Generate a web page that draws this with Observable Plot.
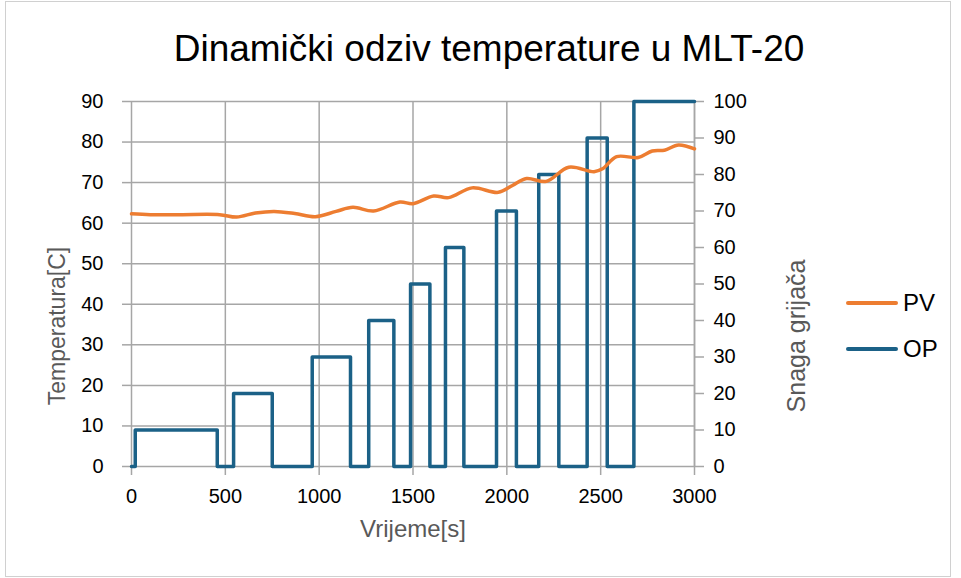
<!DOCTYPE html>
<html><head><meta charset="utf-8">
<script src="https://cdn.jsdelivr.net/npm/d3@7"></script>
<script src="https://cdn.jsdelivr.net/npm/@observablehq/plot@0.6"></script>
<style>
body{margin:0;background:#fff;font-family:"Liberation Sans",Arial,sans-serif;}
#wrap{position:relative;width:961px;height:578px;overflow:hidden}
#frame{position:absolute;left:5px;top:1px;width:946px;height:576px;border:1px solid #d0d0d0;box-sizing:border-box}
#title{position:absolute;left:0;top:30px;width:978px;text-align:center;font-size:37px;line-height:37px;color:#000}
#chart{position:absolute;left:0;top:0}
.lg{position:absolute;font-size:24px;line-height:24px;color:#000}
.lgl{position:absolute;height:4px;border-radius:2px}
</style></head>
<body>
<div id="wrap">
  <div id="frame"></div>
  <div id="chart"></div>
  <div id="title">Dinamički odziv temperature u MLT-20</div>
  <div class="lgl" style="left:846px;top:301px;width:52px;background:#ED7D31"></div>
  <div class="lg" style="left:903px;top:291px">PV</div>
  <div class="lgl" style="left:846px;top:347px;width:52px;background:#1B6187"></div>
  <div class="lg" style="left:903px;top:337px">OP</div>
</div>
<script>
// PV: process value (temperature, left axis)
const pvTime = [0, 100, 260, 470, 560, 660, 760, 870, 980, 1090, 1180, 1290, 1430, 1500, 1610, 1690, 1815, 1955, 2030, 2105, 2210, 2330, 2465, 2510, 2585, 2700, 2775, 2840, 2915, 3000];
const pvTemp = [62.3, 62.1, 62.1, 62.1, 61.5, 62.5, 62.9, 62.4, 61.6, 62.9, 63.9, 63.0, 65.2, 64.8, 66.7, 66.3, 68.7, 67.6, 69.3, 71.0, 70.3, 73.8, 72.7, 73.4, 76.4, 76.2, 77.8, 78.0, 79.3, 78.3];
// OP: heater power (right axis), step changes
const opTime = [0, 20, 457, 544, 750, 963, 1167, 1264, 1398, 1487, 1590, 1673, 1771, 1945, 2051, 2170, 2277, 2428, 2535, 2677, 3000];
const opPower = [0, 10, 0, 20, 0, 30, 0, 40, 0, 50, 0, 60, 0, 70, 0, 80, 0, 90, 0, 100, 100];
const xTicks = [0, 500, 1000, 1500, 2000, 2500, 3000];
const yLeftTicks = [0, 10, 20, 30, 40, 50, 60, 70, 80, 90];
const yRightTicks = [0, 10, 20, 30, 40, 50, 60, 70, 80, 90, 100];

const k = 90 / 100; // right axis 0..100 mapped onto left 0..90
const pv = pvTime.map((t, i) => ({t, v: pvTemp[i]}));
const op = opTime.map((t, i) => ({t, v: opPower[i] * k}));

const grid = "#a6a6a6";
const chart = Plot.plot({
  width: 961, height: 578,
  marginLeft: 131, marginRight: 267, marginTop: 101, marginBottom: 112,
  x: {domain: [0, 3000]},
  y: {domain: [0, 90]},
  style: {fontFamily: '"Liberation Sans", Arial, sans-serif', fontSize: "20px", color: "#000", background: "transparent", overflow: "visible"},
  marks: [
    Plot.gridX(xTicks, {stroke: grid, strokeOpacity: 1, strokeWidth: 1.5}),
    Plot.gridY(yLeftTicks, {stroke: grid, strokeOpacity: 1, strokeWidth: 1.5}),
    Plot.ruleX([3000], {stroke: grid, strokeWidth: 1.5}),
    Plot.axisX(xTicks, {tickSize: 9, tickPadding: 13, stroke: grid, strokeWidth: 1.5, label: null, tickFormat: d => String(d)}),
    Plot.axisY(yLeftTicks, {anchor: "left", tickSize: 9, tickPadding: 19, stroke: grid, strokeWidth: 1.5, label: null}),
    Plot.axisY(yRightTicks.map(v => v * k), {anchor: "right", tickSize: 9, tickPadding: 10, stroke: grid, strokeWidth: 1.5, label: null, tickFormat: d => String(Math.round(d / k))}),
    Plot.text(["Temperatura[C]"], {frameAnchor: "left", textAnchor: "middle", dx: -74, dy: 42, rotate: -90, fontSize: 23, fill: "#595959"}),
    Plot.text(["Snaga grijača"], {frameAnchor: "right", textAnchor: "middle", dx: 102, dy: 52, rotate: -90, fontSize: 25, fill: "#595959"}),
    Plot.text(["Vrijeme[s]"], {frameAnchor: "bottom", dy: 70, fontSize: 24, fill: "#595959"}),
    Plot.line(op, {x: "t", y: "v", curve: "step-after", stroke: "#1B6187", strokeWidth: 3.5, strokeLinejoin: "round"}),
    Plot.line(pv, {x: "t", y: "v", curve: "catmull-rom", stroke: "#ED7D31", strokeWidth: 3.5})
  ]
});
document.getElementById("chart").appendChild(chart);
</script>
</body></html>
